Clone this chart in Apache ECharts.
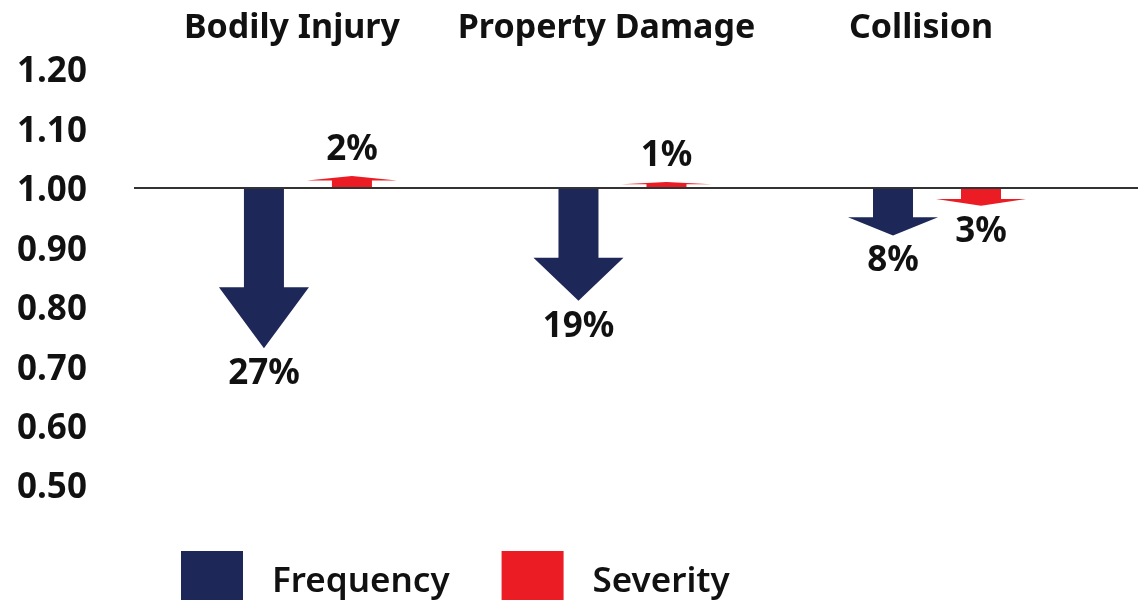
<!DOCTYPE html>
<html>
<head>
<meta charset="utf-8">
<script src="https://cdn.jsdelivr.net/npm/echarts@6/dist/echarts.min.js"></script>
<style>
  html, body { margin: 0; padding: 0; background: #ffffff; }
  #chart { width: 1138px; height: 600px; }
</style>
</head>
<body>
<div id="chart"></div>
<script>
// Coverage lines and the percentage change in each (relative to a 1.00 baseline)
const categories = ['Bodily Injury', 'Property Damage', 'Collision'];
const frequencyChange = [-27, -19, -8];
const severityChange = [2, 1, -3];
const yTicks = [0.5, 0.6, 0.7, 0.8, 0.9, 1.0, 1.1, 1.2];

const NAVY = '#1e2858';
const RED = '#ec1c24';
const FONT = 'Noto Sans';
const WEIGHT = 'bold';
const BASE = 1.0;

// Relative index (1.00 = no change) for each arrow
const toIndex = arr => arr.map((p, i) => [i, BASE + p / 100, p]);

// Block arrow from the baseline to the value; head takes ~38% of the length
function arrowRenderer(offsetPx, color) {
  return function (params, api) {
    const i = api.value(0);
    const v = api.value(1);
    const pct = api.value(2);
    const base = api.coord([i, BASE]);
    const tip = api.coord([i, v]);
    const cx = base[0] + offsetPx;
    const y0 = base[1];
    const y1 = tip[1];
    const len = y1 - y0;              // positive = pointing down
    const dir = len >= 0 ? 1 : -1;
    const headLen = len * 0.38;
    const shaftHalf = 20;
    const headHalf = 45;
    const yNeck = y1 - headLen;
    const points = [
      [cx - shaftHalf, y0], [cx + shaftHalf, y0],
      [cx + shaftHalf, yNeck], [cx + headHalf, yNeck],
      [cx, y1],
      [cx - headHalf, yNeck], [cx - shaftHalf, yNeck]
    ];
    return {
      type: 'group',
      children: [
        { type: 'polygon', shape: { points }, style: { fill: color } },
        {
          type: 'text',
          x: cx, y: y1 + dir * 26,
          style: {
            text: Math.abs(pct) + '%',
            fill: '#111',
            font: `${WEIGHT} 35px "${FONT}"`,
            align: 'center',
            verticalAlign: 'middle'
          }
        }
      ]
    };
  };
}

const chart = echarts.init(document.getElementById('chart'));
chart.setOption({
  backgroundColor: '#ffffff',
  animation: false,
  textStyle: { fontFamily: FONT },
  grid: { left: 134, right: 0, top: 69, bottom: 115 },
  legend: {
    left: 181, top: 551, padding: 0,
    itemWidth: 62, itemHeight: 62, itemGap: 52,
    icon: 'rect',
    data: ['Frequency', 'Severity'],
    textStyle: { fontSize: 35, fontWeight: 600, color: '#111', padding: [0, 0, 8, 24], fontFamily: FONT }
  },
  xAxis: {
    type: 'value', min: -0.553, max: 2.639,
    show: false
  },
  yAxis: {
    type: 'value', min: yTicks[0], max: yTicks[yTicks.length - 1], interval: 0.1,
    axisLine: { show: false }, axisTick: { show: false }, splitLine: { show: false },
    axisLabel: {
      align: 'left', margin: 117,
      formatter: v => '{t|' + v.toFixed(2) + '}',
      rich: {
        t: {
          color: '#111', fontSize: 35, fontWeight: WEIGHT, fontFamily: FONT,
          lineHeight: 40, padding: [7, 0, 0, 0]
        }
      }
    }
  },
  series: [
    {
      name: 'Frequency', type: 'custom', color: NAVY,
      renderItem: arrowRenderer(-44, NAVY),
      encode: { x: 0, y: 1 },
      data: toIndex(frequencyChange),
      markLine: {
        silent: true, symbol: 'none', label: { show: false },
        lineStyle: { color: '#333', width: 2, type: 'solid' },
        data: [{ yAxis: BASE }]
      },
      z: 3
    },
    {
      name: 'Severity', type: 'custom', color: RED,
      renderItem: arrowRenderer(44, RED),
      encode: { x: 0, y: 1 },
      data: toIndex(severityChange),
      z: 3
    },
    {
      // Coverage titles above each pair of arrows
      name: 'titles', type: 'custom', silent: true,
      renderItem: function (params, api) {
        const p = api.coord([api.value(0), yTicks[yTicks.length - 1]]);
        return {
          type: 'text', x: p[0] - 16, y: p[1] - 41,
          style: {
            text: categories[params.dataIndex],
            fill: '#111', font: `${WEIGHT} 34px "${FONT}"`,
            align: 'center', verticalAlign: 'middle'
          }
        };
      },
      encode: { x: 0 },
      data: categories.map((c, i) => [i])
    }
  ]
});
</script>
</body>
</html>
